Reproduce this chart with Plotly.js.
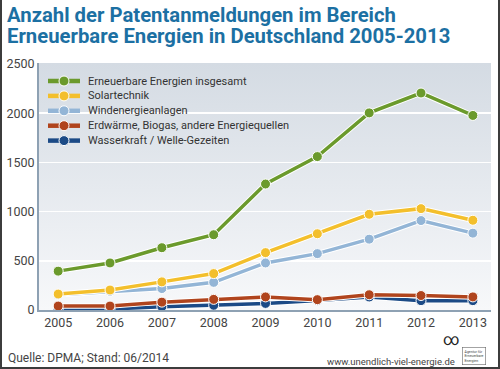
<!DOCTYPE html>
<html>
<head>
<meta charset="utf-8">
<script src="https://cdn.plot.ly/plotly-3.0.1.min.js"></script>
<style>
  html, body { margin: 0; padding: 0; background: #fff; }
  #wrap { position: relative; width: 500px; height: 369px; }
  #chart { width: 500px; height: 369px; }
  #frame { position: absolute; left: 0; top: 0; width: 500px; height: 369px; box-sizing: border-box;
           border-left: 2px solid #3c3c3c; border-right: 2px solid #3c3c3c; border-bottom: 2px solid #3c3c3c;
           pointer-events: none; }
</style>
</head>
<body>
<div id="wrap"><div id="chart"></div><div id="frame"></div></div>
<script>
const years = [2005, 2006, 2007, 2008, 2009, 2010, 2011, 2012, 2013];
const seriesNames = [
  "Erneuerbare Energien insgesamt",
  "Solartechnik",
  "Windenergieanlagen",
  "Erdwärme, Biogas, andere Energiequellen",
  "Wasserkraft / Welle-Gezeiten"
];
const gesamt = [395, 478, 633, 765, 1280, 1559, 2003, 2205, 1977];
const solar = [162, 203, 286, 370, 583, 775, 973, 1030, 912];
const wind = [155, 190, 218, 281, 478, 573, 720, 909, 781];
const erdwaerme = [40, 40, 80, 108, 133, 105, 155, 147, 133];
const wasser = [5, 10, 33, 48, 67, 96, 132, 95, 95];
const seriesColors = ["#6b9a2c", "#f3bf2c", "#93b5d6", "#b0441d", "#1b4a86"];
const yTicks = [0, 500, 1000, 1500, 2000, 2500];
const titleLines = ["Anzahl der Patentanmeldungen im Bereich", "Erneuerbare Energien in Deutschland 2005-2013"];

const allSeries = [gesamt, solar, wind, erdwaerme, wasser];
const traces = [];
// draw from bottom to top so green is on top
for (let i = allSeries.length - 1; i >= 0; i--) {
  traces.push({
    x: years, y: allSeries[i], type: "scatter", mode: "lines",
    line: { color: "#ffffff", width: 5.5 }, showlegend: false, hoverinfo: "skip"
  });
  traces.push({
    x: years, y: allSeries[i], type: "scatter", mode: "lines+markers",
    name: seriesNames[i], showlegend: false,
    line: { color: seriesColors[i], width: 3.5 },
    marker: { color: seriesColors[i], size: 10, line: { color: "#ffffff", width: 1 } }
  });
}

// plot area geometry in pixels (for converting layout positions into paper coords)
const M = { l: 39, r: 9, t: 63, b: 59 };
const PW = 500 - M.l - M.r, PH = 369 - M.t - M.b;
const px = v => (v - M.l) / PW;
const py = v => (369 - M.b - v) / PH;

const gradSvg = '<svg xmlns="http://www.w3.org/2000/svg" width="100" height="100" preserveAspectRatio="none">' +
  '<defs><linearGradient id="g" x1="0" y1="0" x2="0" y2="1">' +
  '<stop offset="0" stop-color="#d4dbe3"/><stop offset="1" stop-color="#f7f8fa"/></linearGradient></defs>' +
  '<rect width="100" height="100" fill="url(#g)"/></svg>';
const gradUri = "data:image/svg+xml;base64," + btoa(gradSvg);

// custom legend (compact rows like the reference)
const shapes = [];
const annotations = [];
seriesNames.forEach((name, i) => {
  const yy = py(81 + 14.9 * i);
  shapes.push({ type: "line", xref: "paper", yref: "paper", x0: px(48), x1: px(80), y0: yy, y1: yy,
    line: { color: seriesColors[i], width: 4.5 } });
  shapes.push({ type: "circle", xref: "paper", yref: "paper", xsizemode: "pixel", ysizemode: "pixel",
    xanchor: px(64), yanchor: yy, x0: -5, x1: 5, y0: -5, y1: 5,
    fillcolor: seriesColors[i], line: { color: "#ffffff", width: 1 } });
  annotations.push({ text: name, xref: "paper", yref: "paper", x: px(86), y: yy,
    xanchor: "left", yanchor: "middle", showarrow: false, font: { size: 11, color: "#333333" } });
});

titleLines.forEach((t, i) => {
  annotations.push({ text: "<b>" + t + "</b>", xref: "paper", yref: "paper", x: px(5), y: py(15 + 21 * i),
    xanchor: "left", yanchor: "middle", align: "left", showarrow: false,
    font: { family: "Roboto, sans-serif", size: 20.3, color: "#1c70a3" } });
});

annotations.push(
  { text: "Quelle: DPMA; Stand: 06/2014", xref: "paper", yref: "paper", x: px(6), y: py(358),
    xanchor: "left", yanchor: "middle", showarrow: false, font: { size: 12, color: "#444444" } },
  { text: "www.unendlich-viel-energie.de", xref: "paper", yref: "paper", x: px(457), y: py(361),
    xanchor: "right", yanchor: "middle", showarrow: false, font: { size: 9.5, color: "#444444" } },
  { text: "∞", xref: "paper", yref: "paper", x: px(451), y: py(339),
    xanchor: "center", yanchor: "middle", showarrow: false, font: { size: 16, color: "#222222" } },
  { text: "Agentur für<br>Erneuerbare<br>Energien", xref: "paper", yref: "paper", x: px(474), y: py(356),
    xanchor: "center", yanchor: "middle", showarrow: false, font: { size: 3.5, color: "#444444" },
    bordercolor: "#666666", borderwidth: 0.6, borderpad: 2, align: "left" }
);

const layout = {
  width: 500, height: 369,
  margin: M,
  paper_bgcolor: "#ffffff",
  plot_bgcolor: "rgba(0,0,0,0)",
  font: { family: "Roboto, 'DejaVu Sans', sans-serif", color: "#444444" },
  images: [{
    source: gradUri, xref: "paper", yref: "paper", x: 0, y: 1, sizex: 1, sizey: 1,
    sizing: "stretch", layer: "below", xanchor: "left", yanchor: "top"
  }],
  xaxis: {
    range: [2004.63, 2013.35], tickvals: years, ticktext: years.map(String),
    showgrid: false, zeroline: false, showline: true, linecolor: "#8ea1b3", linewidth: 2,
    ticks: "", tickfont: { size: 12.5, color: "#444444" }, ticklabelstandoff: 0
  },
  yaxis: {
    range: [0, 2510], tickvals: yTicks, ticktext: yTicks.map(String),
    showgrid: true, gridcolor: "#ffffff", gridwidth: 1.5, zeroline: false,
    showline: true, linecolor: "#8ea1b3", linewidth: 2,
    ticks: "", tickfont: { size: 12.5, color: "#444444" }, ticklabelstandoff: 0
  },
  showlegend: false,
  shapes: shapes,
  annotations: annotations
};

Plotly.newPlot("chart", traces, layout, { displayModeBar: false, staticPlot: true });
</script>
</body>
</html>
